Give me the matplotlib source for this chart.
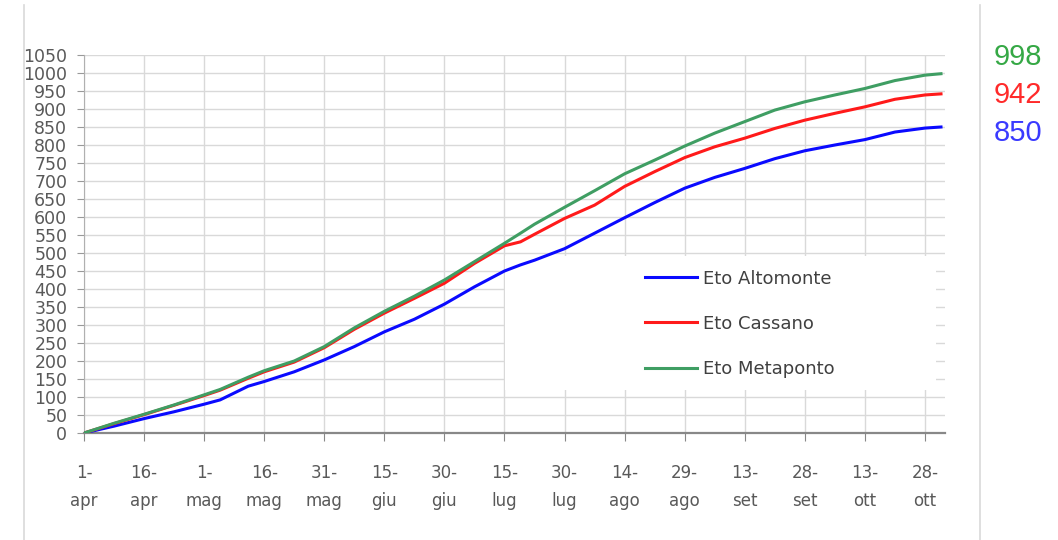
import matplotlib
matplotlib.use("Agg")
import matplotlib.pyplot as plt
from matplotlib.patches import Rectangle
from matplotlib.lines import Line2D

# ---- data (cumulative ETo, mm), days counted from 1 April ----
days = [0, 7.5, 15, 22.5, 30, 34, 41, 45, 52.5, 60, 67.5, 75, 82.5, 90, 97.5, 105, 109,
        112.5, 120, 127.5, 135, 142.5, 150, 157.5, 165, 172.5, 180, 187.5, 195, 202.5, 210, 214]
eto_altomonte = [0, 19, 40, 59, 80, 92, 130, 143, 170, 203, 240, 281, 316, 358, 406, 450, 467,
                 480, 512, 555, 598, 640, 680, 710, 735, 762, 784, 800, 815, 836, 847, 850]
eto_cassano = [0, 26, 51, 77, 104, 119, 152, 170, 197, 237, 288, 333, 374, 416, 471, 520, 531,
               552, 596, 633, 685, 726, 765, 795, 819, 846, 869, 888, 906, 927, 939, 942]
eto_metaponto = [0, 27, 52, 78, 106, 121, 155, 173, 200, 240, 292, 338, 380, 425, 476, 527, 555,
                 580, 627, 673, 720, 758, 797, 833, 865, 897, 920, 939, 957, 979, 994, 998]

tick_days = [0, 15, 30, 45, 60, 75, 90, 105, 120, 135, 150, 165, 180, 195, 210]
tick_labels = ["1-\napr", "16-\napr", "1-\nmag", "16-\nmag", "31-\nmag", "15-\ngiu",
               "30-\ngiu", "15-\nlug", "30-\nlug", "14-\nago", "29-\nago", "13-\nset",
               "28-\nset", "13-\nott", "28-\nott"]
series_names = ["Eto Altomonte", "Eto Cassano", "Eto Metaponto"]
final_labels = ["998", "942", "850"]

c_blue = "#0a0aff"
c_red = "#ff1a1a"
c_green = "#3f9e63"

W, H = 1058, 540
fig = plt.figure(figsize=(W / 100, H / 100), dpi=100)
fig.patch.set_facecolor("white")
ax = fig.add_axes([84 / W, 1 - 433 / H, (945 - 84) / W, (433 - 55) / H])

ax.set_xlim(0, 215)
ax.set_ylim(0, 1050)
ax.set_yticks(range(0, 1051, 50))
ax.set_xticks(tick_days)
ax.set_xticklabels(tick_labels, linespacing=1.75)

ax.set_axisbelow(True)
ax.grid(True, color="#d9d9d9", linewidth=1.0)
for s in ["top", "right"]:
    ax.spines[s].set_visible(False)
ax.spines["left"].set_color("#b0b0b0")
ax.spines["bottom"].set_color("#888888")
ax.spines["bottom"].set_linewidth(1.6)

ax.tick_params(axis="y", direction="out", length=5, color="#999999",
               labelcolor="#595959", labelsize=12.5, pad=7)
ax.tick_params(axis="x", direction="out", length=6, color="#888888",
               labelcolor="#595959", labelsize=12, pad=16)

# white box behind legend
ax.add_patch(Rectangle((0.489, 0.114), 0.9895 - 0.489, 0.468 - 0.114,
                       transform=ax.transAxes, facecolor="white",
                       edgecolor="none", zorder=1.5))

l1, = ax.plot(days, eto_altomonte, color=c_blue, lw=2.2, zorder=3)
l2, = ax.plot(days, eto_cassano, color=c_red, lw=2.2, zorder=3)
l3, = ax.plot(days, eto_metaponto, color=c_green, lw=2.2, zorder=4)

leg = ax.legend([l1, l2, l3], series_names, loc="upper left",
                bbox_to_anchor=(0.6516, 0.432), frameon=False,
                handlelength=2.9, handletextpad=0.3, labelspacing=1.5,
                fontsize=13, borderpad=0, borderaxespad=0)
for t in leg.get_texts():
    t.set_color("#404040")

# final values on the right
for lab, yc, col in zip(final_labels, [57, 95, 133], ["#35a845", "#ff2a2a", "#3a3aff"]):
    fig.text(1018 / W, 1 - yc / H, lab, color=col, fontsize=21,
             family="Liberation Sans", ha="center", va="center")

# frame lines of the original picture
for xp in [24, 980]:
    fig.add_artist(Line2D([xp / W, xp / W], [0, 1 - 5 / H], color="#d9d9d9", lw=1.2))

fig.savefig("out.png", dpi=100, facecolor="white")
